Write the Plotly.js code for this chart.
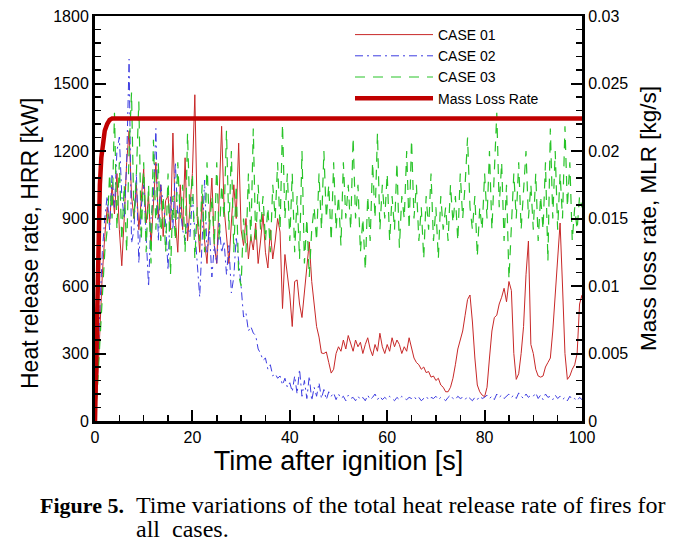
<!DOCTYPE html>
<html><head><meta charset="utf-8">
<script src="https://cdn.plot.ly/plotly-3.0.1.min.js"></script>
<style>html,body{margin:0;padding:0;background:#fff}#chart{width:686px;height:551px}</style>
</head><body><div id="chart"></div>
<script>
// time grid: samples every 0.5 s from 0 s to 100 s
const timeStart = 0;
const timeStep = 0.5;

// CASE 01 HRR [kW]
const case01 = [
  0,150,400,650,820,950,880,1050,920,1100,
  850,690,900,1150,1290,1000,900,1050,850,1000,
  1120,880,1000,780,950,1150,900,1050,820,980,
  1000,850,1280,900,750,1050,850,1170,800,950,
  1100,1450,900,750,1000,800,700,900,1080,780,
  700,1000,1310,950,820,700,880,1050,900,1235,
  850,780,900,720,820,760,880,700,800,920,
  750,680,850,720,800,900,840,500,740,650,
  560,420,620,627,520,460,570,700,796,620,
  510,420,373,302,300,307,260,213,230,300,
  330,310,360,320,380,340,310,360,330,350,
  300,340,370,320,290,340,310,390,330,300,
  340,310,370,330,360,340,300,330,310,370,
  330,280,260,250,230,240,215,220,195,200,
  180,190,160,150,130,130,150,190,250,320,
  360,400,470,540,560,440,280,160,130,115,
  108,150,280,400,460,470,520,550,590,530,
  620,580,300,185,210,300,420,650,800,340,
  300,230,200,195,200,240,260,280,400,560,
  700,880,600,300,185,200,230,250,300,520,
  560
];

// CASE 02 HRR [kW]
const case02 = [
  0,200,500,750,900,1000,850,1100,950,1200,
  1262,1000,900,1150,1608,790,850,1100,700,950,
  1050,800,596,900,1000,1300,800,1050,950,880,
  671,1000,850,1150,900,950,850,800,880,820,
  996,850,700,551,800,1071,750,850,640,780,
  700,880,747,800,650,780,569,640,820,720,
  600,462,480,400,420,391,380,320,300,270,
  280,230,250,200,210,190,200,160,190,150,
  170,130,200,120,230,110,180,100,200,90,
  150,110,170,100,140,95,130,110,125,95,
  120,100,110,90,115,100,105,90,110,95,
  105,90,115,95,105,120,95,110,95,105,
  95,110,100,90,105,95,110,100,95,105,
  100,110,95,105,90,100,110,95,105,100,
  110,95,105,100,90,105,115,100,95,110,
  100,105,95,110,100,90,105,95,110,100,
  105,115,100,110,95,120,105,115,100,110,
  120,105,115,100,125,110,100,120,105,115,
  110,125,100,115,95,120,105,110,95,115,
  100,110,95,105,90,110,95,100,90,105,
  95
];

// CASE 03 HRR [kW]
const case03 = [
  0,150,350,550,750,850,1100,900,1370,850,
  1150,800,1050,750,1200,1460,900,1100,1420,800,
  1150,750,1050,700,1250,850,1150,800,1000,750,
  1100,650,1000,800,1150,900,1050,750,1280,900,
  1100,720,950,800,1050,750,1150,850,1000,780,
  1150,800,1050,900,1290,850,1200,750,1050,650,
  600,900,750,1100,800,1300,790,1050,850,1000,
  800,950,750,1050,900,1150,850,1320,900,1100,
  800,1100,750,1000,720,1200,700,900,640,850,
  950,800,1100,850,1200,900,1050,800,1150,850,
  1000,780,1150,900,1050,850,1260,900,1050,750,
  900,670,1000,800,1150,900,1280,850,1050,900,
  1100,800,1000,850,1150,770,1000,900,1200,850,
  1250,900,1050,800,950,720,1000,850,1100,800,
  950,720,1000,850,950,800,1050,880,1000,800,
  1100,900,1050,1260,950,850,1000,730,950,850,
  1100,900,1200,850,1100,1370,950,1150,800,1050,
  630,850,1100,900,1150,850,1050,1200,900,1050,
  850,1100,800,1000,850,1150,710,1300,900,1200,
  850,1100,900,1310,950,1150,800,950,850,1000,
  950
];

// Mass loss rate [kg/s]
const mlrTime  = [0, 0.3, 0.5, 0.7, 1.0, 1.3, 1.6, 2.0, 2.5, 3.0, 3.5, 100];
const mlrValue = [0, 0.006, 0.011, 0.0145, 0.0175, 0.0195, 0.0207, 0.0215, 0.022, 0.0223, 0.0224, 0.0224];

const seriesNames = ['CASE 01', 'CASE 02', 'CASE 03', 'Mass Loss Rate'];

const sans = 'Liberation Sans, Arial, sans-serif';
const serif = 'Liberation Serif, Times New Roman, serif';

const traces = [
  {x0: timeStart, dx: timeStep, y: case01, name: seriesNames[0], type: 'scatter', mode: 'lines',
   line: {color: 'rgb(200,40,40)', width: 1}},
  {x0: timeStart, dx: timeStep, y: case02, name: seriesNames[1], type: 'scatter', mode: 'lines',
   line: {color: 'rgb(60,60,225)', width: 1, dash: '8px,4px,2px,4px'}},
  {x0: timeStart, dx: timeStep, y: case03, name: seriesNames[2], type: 'scatter', mode: 'lines',
   line: {color: 'rgb(40,195,40)', width: 1.2, dash: '10px,8px'}},
  {x: mlrTime, y: mlrValue, name: seriesNames[3], type: 'scatter', mode: 'lines', yaxis: 'y2',
   line: {color: 'rgb(192,0,0)', width: 4.5}}
];

const px = v => (v - 95) / 487;
const py = v => (421 - v) / 405;

const layout = {
  width: 686, height: 551,
  margin: {l: 95, r: 104, t: 16, b: 130},
  paper_bgcolor: '#fff', plot_bgcolor: '#fff',
  font: {family: sans, color: '#000', size: 16},
  showlegend: true,
  legend: {x: px(350), y: py(19), xanchor: 'left', yanchor: 'top',
           bgcolor: 'rgba(0,0,0,0)', borderwidth: 0, itemwidth: 78,
           font: {family: sans, size: 14, color: '#000'}, traceorder: 'normal'},
  xaxis: {range: [0, 100], dtick: 20, tick0: 0, showgrid: false, zeroline: false,
          showline: true, linecolor: '#000', linewidth: 2.5, mirror: true,
          ticks: 'inside', ticklen: 11, tickwidth: 2, tickcolor: '#000',
          minor: {dtick: 5, ticks: 'inside', ticklen: 6, tickwidth: 1.5, tickcolor: '#000', showgrid: false},
          tickfont: {family: sans, size: 16},
          title: {text: 'Time after ignition [s]', font: {family: sans, size: 27}, standoff: 7}},
  yaxis: {range: [0, 1800], dtick: 300, tick0: 0, showgrid: false, zeroline: false,
          showline: true, linecolor: '#000', linewidth: 3,
          ticks: 'inside', ticklen: 11, tickwidth: 2, tickcolor: '#000',
          minor: {dtick: 60, ticks: 'inside', ticklen: 6, tickwidth: 1.5, tickcolor: '#000', showgrid: false},
          tickfont: {family: sans, size: 16}},
  yaxis2: {range: [0, 0.03], dtick: 0.005, tick0: 0, overlaying: 'y', side: 'right', anchor: 'x',
           showgrid: false, zeroline: false,
           showline: true, linecolor: '#000', linewidth: 3,
           ticks: 'inside', ticklen: 11, tickwidth: 2, tickcolor: '#000',
           minor: {dtick: 0.001, ticks: 'inside', ticklen: 6, tickwidth: 1.5, tickcolor: '#000', showgrid: false},
           tickfont: {family: sans, size: 16},
           title: {text: 'Mass loss rate, MLR [kg/s]', font: {family: sans, size: 22.5}, standoff: 13}},
  annotations: [
    {xref: 'paper', yref: 'paper', x: px(30), y: py(244), xanchor: 'center', yanchor: 'middle',
     textangle: -90, text: 'Heat release rate, HRR [kW]', showarrow: false,
     font: {family: sans, size: 23, color: '#000'}},
    {xref: 'paper', yref: 'paper', x: px(38), y: py(505), xanchor: 'left', yanchor: 'middle',
     text: '<b>Figure 5.</b>', showarrow: false, font: {family: serif, size: 22, color: '#000'}},
    {xref: 'paper', yref: 'paper', x: px(134), y: py(505), xanchor: 'left', yanchor: 'middle',
     text: 'Time variations of the total heat release rate of fires for', showarrow: false,
     font: {family: serif, size: 24, color: '#000'}},
    {xref: 'paper', yref: 'paper', x: px(134), y: py(529), xanchor: 'left', yanchor: 'middle',
     text: 'all&nbsp;&nbsp;cases.', showarrow: false, font: {family: serif, size: 24, color: '#000'}}
  ]
};

Plotly.newPlot('chart', traces, layout, {displayModeBar: false, staticPlot: true});
</script>
</body></html>
